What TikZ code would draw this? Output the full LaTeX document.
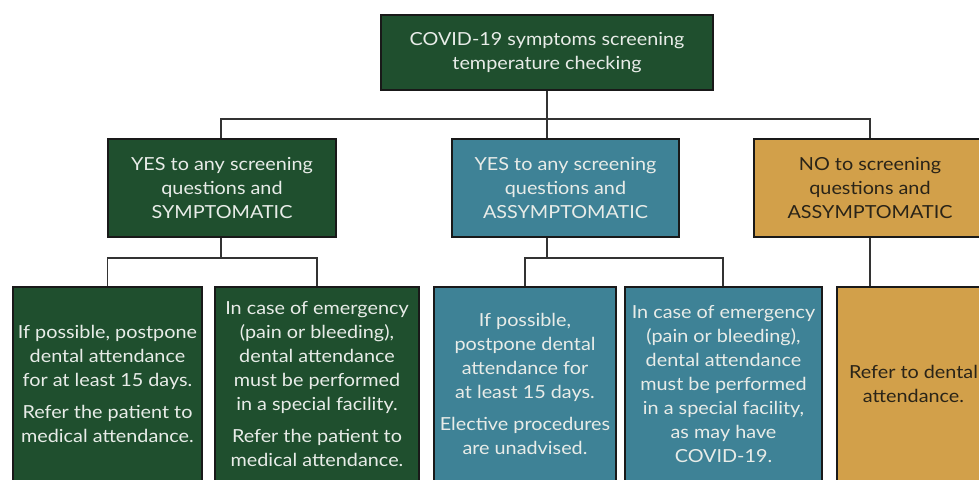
\documentclass[tikz,border=0pt]{standalone}
\usepackage{fontspec}
\setmainfont{Lato}[FakeStretch=1.1]
\definecolor{dgreen}{HTML}{1F4F2E}
\definecolor{teal2}{HTML}{3E8296}
\definecolor{gold2}{HTML}{D2A04A}
\definecolor{lighttxt}{HTML}{E8ECE8}
\definecolor{darktxt}{HTML}{2A2418}
\definecolor{linec}{HTML}{333333}
\tikzset{
  box/.style={draw=black!90, line width=1.1pt, align=center, inner sep=0pt,
    font=\fontsize{18}{24}\selectfont},
  gbox/.style={box, fill=dgreen, text=lighttxt},
  tbox/.style={box, fill=teal2, text=lighttxt},
  obox/.style={box, fill=gold2, text=darktxt},
  conn/.style={draw=linec, line width=1.3pt}
}
\begin{document}
\begin{tikzpicture}[x=1pt,y=-1pt]
\useasboundingbox (0,0) rectangle (979,479);
\clip (0,0) rectangle (979,479);
% top
\node[gbox, minimum width=332pt, minimum height=75pt] (top) at (547,52.5)
  {COVID-19 symptoms screening\\temperature checking};
% level 2
\node[gbox, minimum width=228pt, minimum height=98pt] (g) at (222,188)
  {YES to any screening\\questions and\\SYMPTOMATIC};
\node[tbox, minimum width=227pt, minimum height=98pt] (t) at (565.5,188)
  {YES to any screening\\questions and\\ASSYMPTOMATIC};
\node[obox, minimum width=232pt, minimum height=98pt] (o) at (870,188)
  {NO to screening\\questions and\\ASSYMPTOMATIC};
% level 3
\node[gbox, minimum width=189pt, minimum height=194pt] (g1) at (107.5,384)
  {If possible, postpone\\dental attendance\\for at least 15 days.\\[8pt]Refer the patient to\\medical attendance.};
\node[gbox, minimum width=204pt, minimum height=194pt] (g2) at (317,384)
  {In case of emergency\\(pain or bleeding),\\dental attendance\\must be performed\\in a special facility.\\[8pt]Refer the patient to\\medical attendance.};
\node[tbox, minimum width=182pt, minimum height=194pt] (t1) at (525,384)
  {If possible,\\postpone dental\\attendance for\\at least 15 days.\\[8pt]Elective procedures\\are unadvised.};
\node[tbox, minimum width=197pt, minimum height=194pt] (t2) at (723.5,384)
  {In case of emergency\\(pain or bleeding),\\dental attendance\\must be performed\\in a special facility,\\as may have\\COVID-19.};
\node[obox, minimum width=153pt, minimum height=194pt] (o1) at (913.5,384)
  {Refer to dental\\attendance.};
% connectors
\coordinate (bus) at (547,119);
\coordinate (gbus) at (221,258);
\coordinate (tbus) at (547,258);
\draw[conn] (top.south) -- (bus);
\draw[conn] (g.north -| gbus) |- (bus) -| (o.north);
\draw[conn] (bus) -- (bus |- t.north);
\draw[conn] (gbus |- g.south) -- (gbus);
\draw[conn] (g1.north) |- (gbus) -| (g2.north);
\draw[conn] (tbus |- t.south) -- (tbus);
\draw[conn] (t1.north) |- (tbus) -| (t2.north -| 723,0);
\draw[conn] (o.south) -- (o.south |- o1.north);
\end{tikzpicture}
\end{document}
